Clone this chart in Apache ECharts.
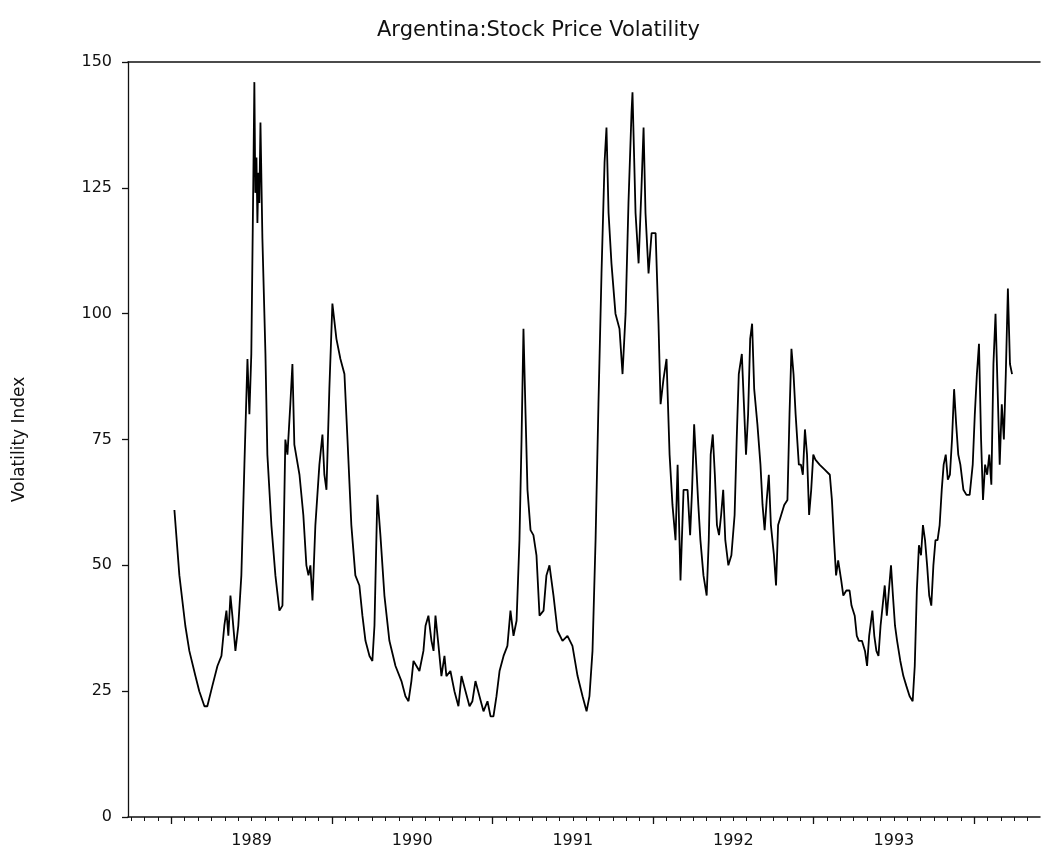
<!DOCTYPE html>
<html>
<head>
<meta charset="utf-8">
<title>Argentina: Stock Price Volatility</title>
<script src="https://cdn.jsdelivr.net/npm/echarts@6/dist/echarts.min.js"></script>
<style>
  html, body { margin: 0; padding: 0; background: #ffffff; }
  #chart { width: 1047px; height: 861px; }
</style>
</head>
<body>
<div id="chart"></div>
<script>
// Weekly volatility index, dates as decimal years
const dates = [
  1989.019, 1989.050, 1989.087, 1989.112, 1989.150, 1989.174, 1989.206, 1989.224, 1989.255, 1989.287,
  1989.312, 1989.330, 1989.343, 1989.355, 1989.368, 1989.380, 1989.399, 1989.417, 1989.436, 1989.455,
  1989.474, 1989.486, 1989.498, 1989.511, 1989.517, 1989.523, 1989.530, 1989.536, 1989.542, 1989.548,
  1989.555, 1989.567, 1989.586, 1989.598, 1989.623, 1989.648, 1989.673, 1989.692, 1989.710, 1989.723,
  1989.741, 1989.754, 1989.766, 1989.798, 1989.822, 1989.841, 1989.854, 1989.866, 1989.879, 1989.897,
  1989.922, 1989.941, 1989.953, 1989.966, 1989.984, 1990.003, 1990.028, 1990.053, 1990.078, 1990.097,
  1990.121, 1990.146, 1990.171, 1990.190, 1990.209, 1990.234, 1990.252, 1990.265, 1990.283, 1990.302,
  1990.327, 1990.358, 1990.396, 1990.433, 1990.458, 1990.477, 1990.495, 1990.508, 1990.545, 1990.570,
  1990.583, 1990.601, 1990.620, 1990.633, 1990.645, 1990.664, 1990.682, 1990.701, 1990.713, 1990.738,
  1990.763, 1990.788, 1990.807, 1990.832, 1990.857, 1990.875, 1990.894, 1990.919, 1990.944, 1990.969,
  1990.988, 1991.006, 1991.025, 1991.044, 1991.069, 1991.093, 1991.112, 1991.131, 1991.150, 1991.168,
  1991.181, 1991.193, 1991.206, 1991.218, 1991.237, 1991.255, 1991.274, 1991.293, 1991.318, 1991.336,
  1991.355, 1991.380, 1991.405, 1991.436, 1991.467, 1991.498, 1991.530, 1991.561, 1991.586, 1991.604,
  1991.623, 1991.642, 1991.660, 1991.679, 1991.698, 1991.710, 1991.723, 1991.741, 1991.766, 1991.791,
  1991.810, 1991.829, 1991.847, 1991.866, 1991.872, 1991.891, 1991.910, 1991.928, 1991.941, 1991.953,
  1991.972, 1991.991, 1992.016, 1992.034, 1992.047, 1992.065, 1992.084, 1992.103, 1992.121, 1992.140,
  1992.153, 1992.171, 1992.190, 1992.215,
  1992.231, 1992.243, 1992.256, 1992.269, 1992.282, 1992.295, 1992.314, 1992.334, 1992.347, 1992.359,
  1992.372, 1992.385, 1992.398, 1992.411, 1992.424, 1992.437, 1992.450, 1992.469, 1992.488, 1992.508,
  1992.521, 1992.534, 1992.553, 1992.566, 1992.579, 1992.592, 1992.605, 1992.617, 1992.630, 1992.650,
  1992.669, 1992.682, 1992.695, 1992.708, 1992.721, 1992.734, 1992.753, 1992.766, 1992.779, 1992.798,
  1992.817, 1992.837, 1992.850, 1992.862, 1992.875, 1992.888, 1992.908, 1992.921, 1992.933, 1992.946,
  1992.959, 1992.972, 1992.985, 1992.998, 1993.011, 1993.037, 1993.069, 1993.101, 1993.114, 1993.127,
  1993.140, 1993.153, 1993.172, 1993.185, 1993.204, 1993.224, 1993.236, 1993.256, 1993.269, 1993.282,
  1993.301, 1993.320, 1993.333, 1993.346, 1993.366, 1993.378, 1993.391, 1993.404, 1993.417, 1993.430,
  1993.443, 1993.456, 1993.469, 1993.482, 1993.494, 1993.507, 1993.520, 1993.540, 1993.559, 1993.578,
  1993.598, 1993.617, 1993.630, 1993.643, 1993.656, 1993.669, 1993.681, 1993.694, 1993.707, 1993.720,
  1993.733, 1993.746, 1993.759, 1993.772, 1993.785, 1993.798, 1993.810, 1993.823, 1993.836, 1993.849,
  1993.862, 1993.875, 1993.888, 1993.901, 1993.914, 1993.933, 1993.952, 1993.972, 1993.991, 1994.004,
  1994.017, 1994.030, 1994.043, 1994.055, 1994.068, 1994.081, 1994.094, 1994.107, 1994.120, 1994.133,
  1994.146, 1994.159, 1994.172, 1994.185, 1994.197, 1994.210, 1994.223, 1994.236
];
const volatility = [
  61, 48, 38, 33, 28, 25, 22, 22, 26, 30,
  32, 38, 41, 36, 44, 40, 33, 38, 48, 70,
  91, 80, 92, 128, 146, 124, 131, 118, 128, 122,
  138, 115, 92, 72, 58, 48, 41, 42, 75, 72,
  82, 90, 74, 68, 60, 50, 48, 50, 43, 58,
  70, 76, 68, 65, 85, 102, 95, 91, 88, 75,
  58, 48, 46, 40, 35, 32, 31, 38, 64, 56,
  44, 35, 30, 27, 24, 23, 27, 31, 29, 33,
  38, 40, 35, 33, 40, 34, 28, 32, 28, 29,
  25, 22, 28, 25, 22, 23, 27, 24, 21, 23,
  20, 20, 24, 29, 32, 34, 41, 36, 39, 55,
  75, 97, 80, 65, 57, 56, 52, 40, 41, 48,
  50, 44, 37, 35, 36, 34, 28, 24, 21, 24,
  33, 55, 82, 108, 130, 137, 120, 110, 100, 97,
  88, 100, 122, 140, 144, 120, 110, 125, 137, 120,
  108, 116, 116, 98, 82, 87, 91, 72, 62, 55,
  70, 47, 65, 65,
  56, 65, 78, 70, 62, 55, 48, 44, 55, 72,
  76, 68, 58, 56, 60, 65, 55, 50, 52, 60,
  75, 88, 92, 82, 72, 80, 95, 98, 85, 78,
  70, 62, 57, 63, 68, 58, 52, 46, 58, 60,
  62, 63, 80, 93, 88, 80, 70, 70, 68, 77,
  72, 60, 65, 72, 71, 70, 69, 68, 63, 55,
  48, 51, 47, 44, 45, 45, 42, 40, 36, 35,
  35, 33, 30, 36, 41, 36, 33, 32, 38, 42,
  46, 40, 45, 50, 44, 38, 35, 31, 28, 26,
  24, 23, 30, 45, 54, 52, 58, 55, 50, 44,
  42, 50, 55, 55, 58, 65, 70, 72, 67, 68,
  75, 85, 78, 72, 70, 65, 64, 64, 70, 80,
  88, 94, 75, 63, 70, 68, 72, 66, 90, 100,
  85, 70, 82, 75, 88, 105, 90, 88
];

const yTicks = [0, 25, 50, 75, 100, 125, 150];
const yearTicks = [1989, 1990, 1991, 1992, 1993, 1994];
const yearLabels = ['1989', '1990', '1991', '1992', '1993'];

const X_MIN = 1988.73;
const X_MAX = 1994.41;

// label positions: middle of each calendar year
const labelPositions = yearLabels.map(y => Number(y) + 0.5);
// monthly minor ticks
const monthTicks = [];
for (let m = 1988 * 12 + 9; m <= 1994 * 12 + 4; m++) monthTicks.push(m / 12);

const seriesData = dates.map((d, i) => [d, volatility[i]]);

const FONT = 'DejaVu Sans';
const chart = echarts.init(document.getElementById('chart'), null, { renderer: 'canvas' });

chart.setOption({
  backgroundColor: '#ffffff',
  animation: false,
  title: {
    text: 'Argentina:Stock Price Volatility',
    left: 372,
    top: 15,
    textStyle: { fontFamily: FONT, fontSize: 21, fontWeight: 'normal', color: '#111' }
  },
  grid: { left: 128, right: 7, top: 62, bottom: 44, containLabel: false },
  xAxis: [
    {
      type: 'value', min: X_MIN, max: X_MAX, position: 'bottom',
      axisLine: { show: true, onZero: false, lineStyle: { color: '#111', width: 1.5 } },
      axisTick: { show: true, customValues: yearTicks, length: 7, lineStyle: { color: '#111', width: 1.3 } },
      axisLabel: {
        show: true, customValues: labelPositions,
        formatter: v => String(Math.floor(v + 1e-6)),
        margin: 16, fontFamily: FONT, fontSize: 16, color: '#111'
      },
      splitLine: { show: false }
    },
    {
      type: 'value', min: X_MIN, max: X_MAX, position: 'bottom',
      axisLine: { show: false },
      axisTick: { show: true, customValues: monthTicks, length: 4, lineStyle: { color: '#111', width: 1 } },
      axisLabel: { show: false },
      splitLine: { show: false }
    },
    {
      type: 'value', min: X_MIN, max: X_MAX, position: 'top',
      axisLine: { show: true, onZero: false, lineStyle: { color: '#111', width: 1.5 } },
      axisTick: { show: false },
      axisLabel: { show: false },
      splitLine: { show: false }
    }
  ],
  yAxis: {
    type: 'value', min: 0, max: 150, interval: 25,
    name: 'Volatility Index', nameLocation: 'middle', nameGap: 100, nameRotate: 90,
    nameTextStyle: { fontFamily: FONT, fontSize: 17, color: '#111' },
    axisLine: { show: true, onZero: false, lineStyle: { color: '#111', width: 1.3 } },
    axisTick: { show: true, length: 6, lineStyle: { color: '#111', width: 1.3 } },
    axisLabel: {
      margin: 16, fontFamily: FONT, fontSize: 16, color: '#111',
      formatter: v => (yTicks.includes(v) ? String(v) : '')
    },
    splitLine: { show: false }
  },
  series: [{
    type: 'line',
    xAxisIndex: 0,
    data: seriesData,
    showSymbol: false,
    symbol: 'none',
    lineStyle: { color: '#000', width: 1.8 },
    smooth: false
  }]
});
</script>
</body>
</html>
